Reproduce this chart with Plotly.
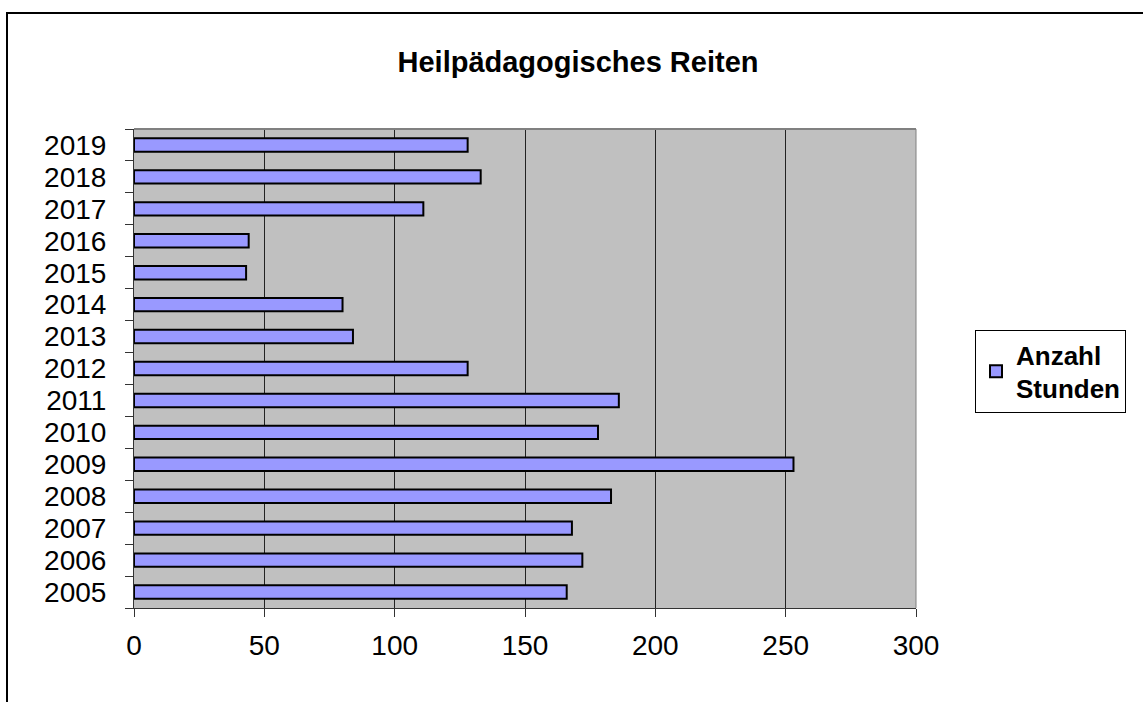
import plotly.graph_objects as go

years = ["2005", "2006", "2007", "2008", "2009", "2010", "2011", "2012",
         "2013", "2014", "2015", "2016", "2017", "2018", "2019"]
stunden = [166, 172, 168, 183, 253, 178, 186, 128, 84, 80, 43, 44, 111, 133, 128]
x_ticks = [0, 50, 100, 150, 200, 250, 300]

W, H = 1143, 702
L, R, T, B = 134, 916, 129, 608
FONT = "Liberation Sans, Arial, sans-serif"


def px_x(p):
    return (p - L) / (R - L)


def px_y(p):
    return (B - p) / (B - T)


fig = go.Figure()
fig.add_trace(go.Bar(
    y=years, x=stunden, orientation="h",
    name="Anzahl<br>Stunden",
    marker=dict(color="#9999FF", line=dict(color="black", width=2)),
))

fig.update_layout(
    width=W, height=H,
    margin=dict(l=L, r=W - R, t=T, b=H - B, pad=0),
    paper_bgcolor="white",
    plot_bgcolor="#C0C0C0",
    bargap=0.58,
    font=dict(family=FONT, color="black"),
    title=dict(text="<b>Heilpädagogisches Reiten</b>", x=578 / W, xanchor="center",
               y=1 - 62 / H, yanchor="middle", font=dict(size=29, color="black", family=FONT)),
    showlegend=True,
    legend=dict(
        x=px_x(975), xanchor="left",
        y=px_y(330), yanchor="top",
        bordercolor="black", borderwidth=1,
        bgcolor="white",
        font=dict(size=26, color="black", family=FONT, weight="bold"),
        itemwidth=30,
    ),
    xaxis=dict(
        range=[0, 300], tickmode="array", tickvals=x_ticks, ticktext=[str(v) for v in x_ticks],
        showgrid=True, gridcolor="#222222", gridwidth=1,
        zeroline=False,
        showline=True, linecolor="#333333", linewidth=1, mirror=False,
        ticks="outside", ticklen=8, tickcolor="#333333",
        tickfont=dict(size=28, color="black"),
        ticklabelstandoff=4,
        fixedrange=True,
    ),
    yaxis=dict(
        type="category", categoryorder="array", categoryarray=years,
        tickmode="array", tickvals=years, ticktext=years,
        showgrid=False, zeroline=False,
        showline=True, linecolor="#333333", linewidth=1,
        ticks="outside", ticklen=8, tickcolor="#333333", tickson="boundaries",
        tickfont=dict(size=28, color="black"),
        ticklabelstandoff=21,
        fixedrange=True,
    ),
)

# plot-area frame (top and right gray edges)
fig.add_shape(type="line", xref="paper", yref="paper", x0=0, x1=1, y0=1, y1=1,
              line=dict(color="#808080", width=2))
fig.add_shape(type="line", xref="paper", yref="paper", x0=1, x1=1, y0=0, y1=1,
              line=dict(color="#808080", width=1))

# outer chart border
fig.add_shape(type="rect", xref="paper", yref="paper",
              x0=px_x(7), x1=px_x(W + 20),
              y0=px_y(H + 20), y1=px_y(13),
              line=dict(color="black", width=2), fillcolor="rgba(0,0,0,0)", layer="below")

fig.write_html("out.html", config={"displayModeBar": False},
               post_script="document.body.style.margin='0';")
